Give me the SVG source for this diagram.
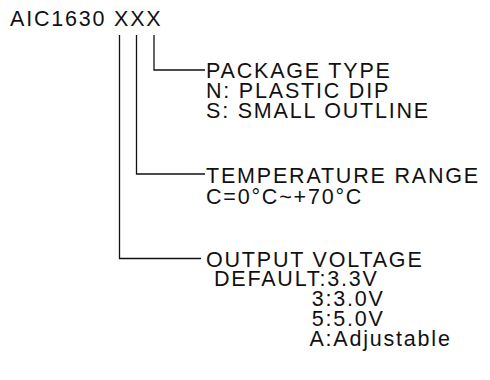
<svg xmlns="http://www.w3.org/2000/svg" width="490" height="380" viewBox="0 0 490 380">
<style>
text{font-family:"Liberation Sans",Arial,sans-serif;font-size:21.5px;fill:#111;letter-spacing:1.8px}
.ln{fill:none;stroke:#111;stroke-width:1.3}
</style>
<rect width="490" height="380" fill="#fff"/>
<g id="title"><text x="10" y="26">AIC1630 XXX</text></g>
<g id="connectors">
<path class="ln" d="M154,35 V70 H205"/>
<path class="ln" d="M136.5,35 V174 H205"/>
<path class="ln" d="M119.5,35 V258.5 H201"/>
</g>
<g id="package">
<text x="206" y="78">PACKAGE TYPE</text>
<text x="206" y="98">N: PLASTIC DIP</text>
<text x="206" y="118">S: SMALL OUTLINE</text>
</g>
<g id="temperature">
<text x="206" y="183">TEMPERATURE RANGE</text>
<text x="206" y="204">C=0°C~+70°C</text>
</g>
<g id="voltage">
<text x="206" y="266.5">OUTPUT VOLTAGE</text>
<text x="214" y="286">DEFAULT:3.3V</text>
<text x="311.7" y="306">3:3.0V</text>
<text x="311.7" y="326">5:5.0V</text>
<text x="309.4" y="346">A:Adjustable</text>
</g>
</svg>
